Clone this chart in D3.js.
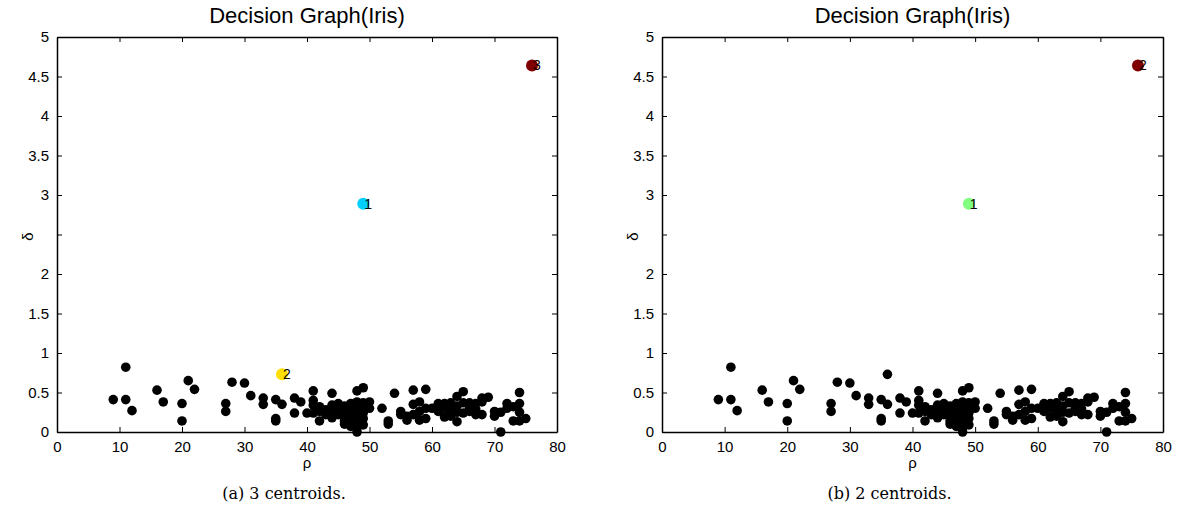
<!DOCTYPE html>
<html>
<head>
<meta charset="utf-8">
<script src="https://cdn.jsdelivr.net/npm/d3@7"></script>
<style>
  body { margin: 0; background: #fff; }
  svg { display: block; }
</style>
</head>
<body>
<div id="chart"></div>
<script>
// decision graph points (rho, delta), centroids excluded
const rho = [
  9, 11, 11, 12, 16, 17, 20, 20, 21, 22,
  27, 27, 28, 30, 31, 33, 33, 35, 35, 35,
  36, 38, 38, 39, 40, 41, 41, 41, 41, 42,
  42, 42, 43, 43, 44, 44, 44, 44, 45, 45,
  45, 46, 46, 46, 46, 46, 47, 47, 47, 47,
  47, 47, 48, 48, 48, 48, 48, 48, 48, 48,
  48, 49, 49, 49, 49, 49, 49, 50, 50, 52,
  53, 53, 54, 55, 55, 56, 57, 57, 57, 58,
  58, 58, 59, 59, 59, 61, 61, 61, 62, 62,
  62, 63, 63, 63, 64, 64, 64, 64, 65, 65,
  65, 66, 66, 66, 67, 67, 68, 68, 68, 69,
  70, 70, 71, 71, 72, 72, 73, 73, 74, 74,
  74, 74, 75, 56, 60, 63, 67, 46, 47, 48
];
const delta = [
  0.41, 0.82, 0.41, 0.27, 0.53, 0.38, 0.36, 0.14, 0.65, 0.54,
  0.36, 0.26, 0.63, 0.62, 0.46, 0.43, 0.35, 0.41, 0.17, 0.14,
  0.35, 0.43, 0.24, 0.38, 0.24, 0.52, 0.40, 0.34, 0.24, 0.14,
  0.32, 0.26, 0.28, 0.22, 0.49, 0.34, 0.25, 0.18, 0.36, 0.30,
  0.22, 0.33, 0.27, 0.20, 0.14, 0.10, 0.36, 0.30, 0.25, 0.18,
  0.12, 0.07, 0.52, 0.38, 0.32, 0.27, 0.21, 0.15, 0.10, 0.05,
  0.00, 0.56, 0.37, 0.30, 0.24, 0.17, 0.09, 0.38, 0.30, 0.30,
  0.14, 0.10, 0.49, 0.26, 0.22, 0.15, 0.53, 0.35, 0.22, 0.38,
  0.26, 0.15, 0.54, 0.30, 0.17, 0.36, 0.26, 0.32, 0.19, 0.30,
  0.36, 0.37, 0.25, 0.31, 0.45, 0.33, 0.13, 0.25, 0.51, 0.37,
  0.24, 0.37, 0.30, 0.26, 0.36, 0.29, 0.43, 0.38, 0.22, 0.44,
  0.20, 0.26, 0.00, 0.25, 0.36, 0.30, 0.14, 0.32, 0.50, 0.36,
  0.25, 0.14, 0.17, 0.20, 0.30, 0.20, 0.22, 0.28, 0.35, 0.21
];

// panel (a): 3 centroids
const centRhoA = [49, 36, 76];
const centDeltaA = [2.89, 0.73, 4.64];
const centColorA = ["#00cfff", "#ffdf00", "#800000"];
// panel (b): 2 centroids; the (36, 0.73) point is an ordinary point
const centRhoB = [49, 76];
const centDeltaB = [2.89, 4.64];
const centColorB = ["#80ff80", "#800000"];

const xTicks = d3.range(0, 81, 10);
const yTicks = d3.range(0, 5.01, 0.5);
const titleText = "Decision Graph(Iris)";
const captions = ["(a) 3 centroids.", "(b) 2 centroids."];

const W = 1184, H = 510;
const svg = d3.select("#chart").append("svg").attr("width", W).attr("height", H);
const sans = "Liberation Sans, Arial, sans-serif";

function drawPanel(left, right, caption, extraRho, extraDelta, cRho, cDelta, cColor) {
  const top = 37, bottom = 432;
  const x = d3.scaleLinear().domain([0, 80]).range([left, right]);
  const y = d3.scaleLinear().domain([0, 5]).range([bottom, top]);
  const g = svg.append("g");

  // axes: ticks point inward on all four sides
  const fmt = d => d3.format("~g")(d);
  // the delta label sits where 2.5 would be, so that label is left out
  const yFmt = d => (d === 2.5 ? "" : fmt(d));
  g.append("g").attr("transform", `translate(0,${bottom})`)
    .call(d3.axisBottom(x).tickValues(xTicks).tickSizeInner(-5).tickSizeOuter(0).tickPadding(9).tickFormat(fmt));
  g.append("g").attr("transform", `translate(0,${top})`)
    .call(d3.axisTop(x).tickValues(xTicks).tickSizeInner(-5).tickSizeOuter(0).tickFormat(""));
  g.append("g").attr("transform", `translate(${left},0)`)
    .call(d3.axisLeft(y).tickValues(yTicks).tickSizeInner(-5).tickSizeOuter(0).tickPadding(8).tickFormat(yFmt));
  g.append("g").attr("transform", `translate(${right},0)`)
    .call(d3.axisRight(y).tickValues(yTicks).tickSizeInner(-5).tickSizeOuter(0).tickFormat(""));
  g.selectAll(".domain").attr("stroke", "#000").attr("stroke-width", 1.5);
  g.selectAll(".tick line").attr("stroke", "#000");
  g.selectAll(".tick text").attr("font-family", sans)
    .attr("font-size", 15).attr("fill", "#000");

  const allRho = rho.concat(extraRho), allDelta = delta.concat(extraDelta);
  g.append("g").selectAll("circle").data(allRho).join("circle")
    .attr("cx", (d) => x(d))
    .attr("cy", (d, i) => y(allDelta[i]))
    .attr("r", 4.8)
    .attr("fill", "#000");

  const cg = g.append("g");
  cRho.forEach((r, i) => {
    cg.append("circle").attr("cx", x(r)).attr("cy", y(cDelta[i])).attr("r", 6).attr("fill", cColor[i]);
    cg.append("text").attr("x", x(r) + 1).attr("y", y(cDelta[i]) + 5)
      .attr("font-family", sans).attr("font-size", 14)
      .attr("fill", "#000").text(i + 1);
  });

  const mid = (left + right) / 2;
  g.append("text").attr("x", mid).attr("y", 23).attr("text-anchor", "middle")
    .attr("font-family", sans).attr("font-size", 22).text(titleText);
  g.append("text").attr("x", mid).attr("y", 468).attr("text-anchor", "middle")
    .attr("font-family", sans).attr("font-size", 15).text("ρ");
  g.append("text").attr("transform", `translate(${left - 24},${(top + bottom) / 2 + 2}) rotate(-90)`)
    .attr("text-anchor", "middle")
    .attr("font-family", sans).attr("font-size", 15).text("δ");
  g.append("text").attr("x", mid - 23).attr("y", 499).attr("text-anchor", "middle")
    .attr("font-family", "DejaVu Serif, serif").attr("font-size", 16).text(caption);
}

drawPanel(57, 557, captions[0], [], [], centRhoA, centDeltaA, centColorA);
drawPanel(662, 1163, captions[1], [36], [0.73], centRhoB, centDeltaB, centColorB);
</script>
</body>
</html>
